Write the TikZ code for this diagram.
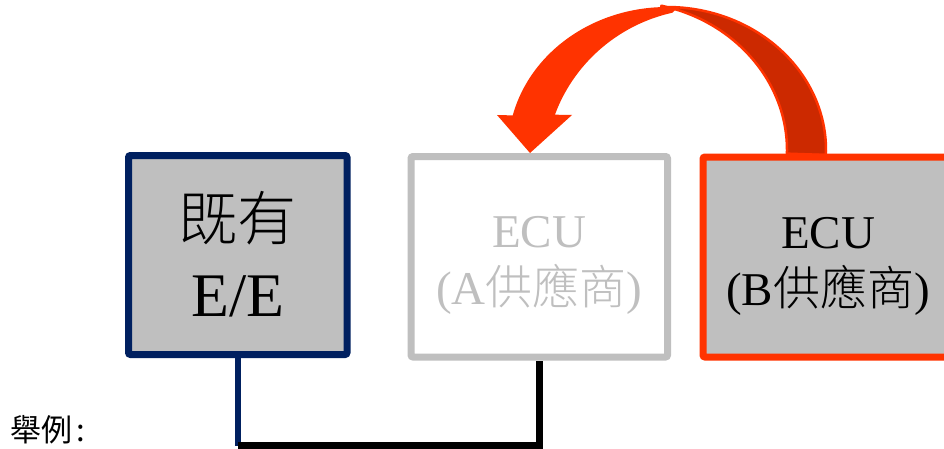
\documentclass[tikz,border=0pt]{standalone}
\usepackage{fontspec}
\setmainfont{Liberation Serif}
\newfontfamily\cjk{Noto Sans CJK TC Light}
\newfontfamily\cjkr{Noto Sans CJK TC}
\definecolor{navy}{HTML}{002060}
\definecolor{boxgray}{HTML}{BFBFBF}
\definecolor{ored}{HTML}{FF3300}
\definecolor{dred}{HTML}{CC2900}
\begin{document}
\begin{tikzpicture}[x=1pt,y=1pt,
  box/.style={draw, line width=7pt, rounded corners=2pt, inner sep=0pt},
  boxtext/.style={inner sep=0pt, align=center},
  midtext/.style={font=\fontsize{47}{57}\selectfont}]
\useasboundingbox (0,0) rectangle (944,448);
\clip (0,0) rectangle (944,448);
% curved arrow: back (dark) band
\filldraw[fill=dred, draw=ored, line width=2.5pt, line join=round]
  plot[domain=-2:92, samples=60] ({667+159*cos(\x)},{298+143*sin(\x)})
  -- plot[domain=92:-2, samples=60] ({667+(159-39*cos(\x))*cos(\x)},{298+(143-39*cos(\x))*sin(\x)})
  -- cycle;
% curved arrow: front (bright) band with head
\fill[ored, line join=round]
  plot[domain=86:166, samples=60] ({667+159*cos(\x)},{298+143*sin(\x)})
  -- (497,333) -- (530,295) -- (572,333)
  -- plot[domain=160:88, samples=60] ({667+(152-33*sin(1.184*(\x-90)))*cos(\x)},{298+(136-33*sin(1.184*(\x-90)))*sin(\x)})
  -- cycle;
% boxes
\node[box, draw=navy, fill=boxgray, minimum width=218.5pt, minimum height=199pt]
  (ee) at (237.75,193) {};
\node[box, draw=boxgray, fill=white, minimum width=256.5pt, minimum height=200.5pt]
  (ecua) at (539.25,191.25) {};
\node[box, draw=ored, fill=boxgray, minimum width=250pt, minimum height=200pt]
  (ecub) at (828,191) {};
% box texts
\node[boxtext, font=\fontsize{62}{76}\selectfont] (eet) at ([yshift=0.5pt]ee.center)
  {{\cjk\fontsize{59}{76}\selectfont 既有}\\E/E};
\node[boxtext, midtext, text=boxgray] (ecuat) at ([yshift=-9pt]ecua.center) {ECU\\(A{\cjk 供應商})};
\node[boxtext, midtext] (ecubt) at ([yshift=-9pt]ecub.center) {ECU\\(B{\cjk 供應商})};
% connector
\coordinate (corner) at (ee.south |- 0,2.5);
\draw[navy, line width=6pt] (ee.south) -- (corner);
\draw[black, line width=7pt] (corner) -- (corner -| ecua.south) -- (ecua.south);
% label
\node[anchor=base west, inner sep=0pt, font=\cjkr\fontsize{31}{33}\selectfont] (lbl) at (10,7) {舉例\kern4pt:};
\end{tikzpicture}
\end{document}
